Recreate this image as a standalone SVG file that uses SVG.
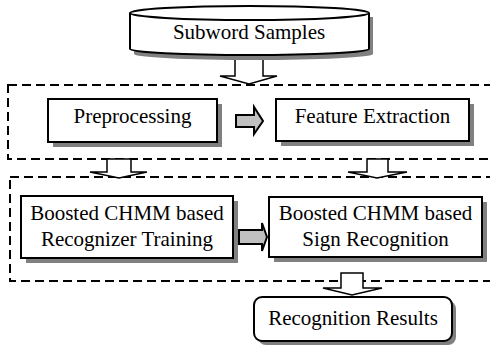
<svg xmlns="http://www.w3.org/2000/svg" width="490" height="348" viewBox="0 0 490 348">
<style>
.txt{font-family:"Liberation Serif","Times New Roman",serif;font-size:21px;fill:#000;text-anchor:middle}
.box{fill:#fff;stroke:#000;stroke-width:2}
.shadow{fill:#808080;stroke:none}
.dash{fill:none;stroke:#000;stroke-width:2;stroke-dasharray:9 5}
.down{fill:#fff;stroke:#000;stroke-width:1.5;stroke-linejoin:miter}
.right{fill:#c0c0c0;stroke:#000;stroke-width:2;stroke-linejoin:miter}
</style>
<rect width="490" height="348" fill="#fff"/>
<g id="regions">
<rect class="dash" x="8" y="85" width="490" height="74"/>
<rect class="dash" x="10" y="177" width="490" height="104"/>
</g>
<g id="connectors">
<path class="down" d="M235,57 H263 V76 H277 L249,84 L220,76 H235 Z"/>
<path class="right" d="M236,115 H254 V107 L263,121 L254,134 V127 H236 Z"/>
<path class="down" d="M107,159 H131 V172 H147 L119,178 L90,172 H107 Z"/>
<path class="down" d="M367,159 H388 V172 H407 L377,178 L348,172 H367 Z"/>
<path class="right" d="M239,230 H262 V223 L267,237 L262,251 V244 H239 Z"/>
<path class="down" d="M341,273 H363 V288 H382 L352,295 L323,288 H341 Z"/>
</g>
<g id="subword">
<path class="shadow" d="M134,17 V54 A119.5,6 0 0 0 373,54 V17 Z"/>
<path class="box" d="M130,13 V49 A119.5,6 0 0 0 369,49 V13"/>
<ellipse class="box" cx="249.5" cy="13" rx="119.5" ry="7"/>
<text class="txt" x="249" y="39">Subword Samples</text>
</g>
<g id="preprocessing">
<rect class="shadow" x="53" y="104" width="169" height="43"/>
<rect class="box" x="48" y="99" width="169" height="43"/>
<text class="txt" x="132.5" y="123">Preprocessing</text>
</g>
<g id="feature">
<rect class="shadow" x="281" y="104" width="193" height="42"/>
<rect class="box" x="276" y="99" width="193" height="42"/>
<text class="txt" x="372.5" y="123">Feature Extraction</text>
</g>
<g id="training">
<rect class="shadow" x="26" y="201" width="212" height="62"/>
<rect class="box" x="21" y="196" width="212" height="62"/>
<text class="txt" x="127" y="220">Boosted CHMM based</text>
<text class="txt" x="127" y="246">Recognizer Training</text>
</g>
<g id="recognition">
<rect class="shadow" x="274" y="202" width="213" height="60"/>
<rect class="box" x="269" y="197" width="213" height="60"/>
<text class="txt" x="375.5" y="220">Boosted CHMM based</text>
<text class="txt" x="375.5" y="246">Sign Recognition</text>
</g>
<g id="results">
<rect class="shadow" x="258" y="301" width="198" height="44" rx="8"/>
<rect class="box" x="254" y="297" width="198" height="44" rx="8"/>
<text class="txt" x="353" y="325">Recognition Results</text>
</g>
</svg>
